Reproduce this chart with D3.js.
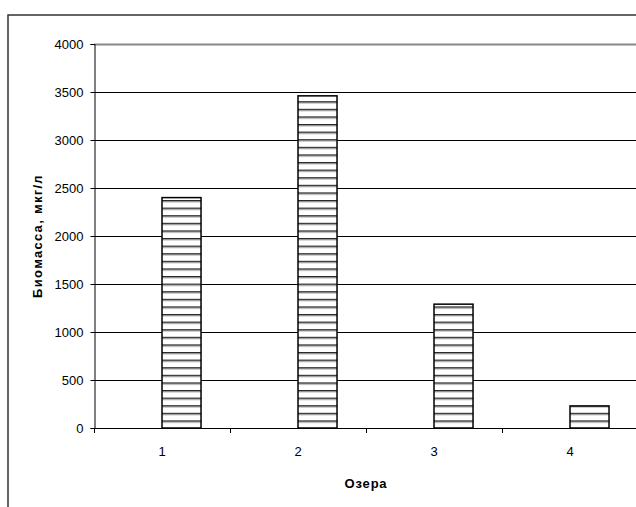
<!DOCTYPE html>
<html><head><meta charset="utf-8">
<script src="https://cdn.jsdelivr.net/npm/d3@7"></script>
<style>
html,body{margin:0;padding:0;background:#fff;}
svg{display:block;font-family:"Liberation Sans",Arial,sans-serif;}
</style></head>
<body>
<svg id="c" width="636" height="507"></svg>
<script>
const categories = ["1","2","3","4"];
const values = [2400, 3460, 1290, 230];
const yTicks = [0,500,1000,1500,2000,2500,3000,3500,4000];
const yTitle = "Биомасса, мкг/л";
const xTitle = "Озера";

const svg = d3.select("#c");
const L = 94, R = 638, T = 44, B = 428;

const defs = svg.append("defs");
const pat = defs.append("pattern").attr("id","hatch")
  .attr("patternUnits","userSpaceOnUse")
  .attr("width", 10).attr("height", 7.6)
  .attr("y", B);
pat.append("rect").attr("width",10).attr("height",7.6).attr("fill","#fff");
pat.append("line").attr("x1",0).attr("x2",10).attr("y1",0.8).attr("y2",0.8)
  .attr("stroke","#1a1a1a").attr("stroke-width",1.5);
pat.append("line").attr("x1",0).attr("x2",10).attr("y1",2).attr("y2",2)
  .attr("stroke","#bbb").attr("stroke-width",1);

// outer border
svg.append("rect").attr("x",8).attr("y",15).attr("width",700).attr("height",600)
  .attr("fill","none").attr("stroke","#333").attr("stroke-width",1.5);

const x = d3.scaleBand().domain(categories).range([L,R]).paddingInner(0).paddingOuter(0);
const y = d3.scaleLinear().domain([0,4000]).range([B,T]);

// gridlines
svg.append("g").selectAll("line").data(yTicks.filter(v=>v>0)).join("line")
  .attr("x1",L).attr("x2",R)
  .attr("y1",d=>Math.round(y(d))+0.5).attr("y2",d=>Math.round(y(d))+0.5)
  .attr("stroke",d=>d===4000?"#888":"#000")
  .attr("stroke-width",d=>d===4000?2:1);

// bars
const bw = x.bandwidth()*0.287;
svg.append("g").selectAll("rect").data(values).join("rect")
  .attr("x",(d,i)=>x(categories[i])+x.bandwidth()/2)
  .attr("y",d=>y(d))
  .attr("width",bw)
  .attr("height",d=>B-y(d))
  .attr("fill","url(#hatch)")
  .attr("stroke","#000").attr("stroke-width",1.5);

// y axis
const ya = svg.append("g").attr("transform",`translate(${L+0.5},0)`)
  .call(d3.axisLeft(y).tickValues(yTicks).tickSize(4).tickPadding(7).tickFormat(d3.format("d")));
ya.select(".domain").attr("stroke","#000");
ya.selectAll(".tick line").attr("stroke","#000");
ya.selectAll("text").attr("font-size","13px").attr("fill","#000")
  .attr("font-family","'Liberation Sans',Arial,sans-serif");

// x axis
const xa = svg.append("g").attr("transform",`translate(0,${B+0.5})`)
  .call(d3.axisBottom(x).tickSize(0).tickPadding(18));
xa.select(".domain").remove();
xa.selectAll("text").attr("font-size","13px").attr("fill","#000")
  .attr("font-family","'Liberation Sans',Arial,sans-serif");
svg.append("line").attr("x1",L).attr("x2",R).attr("y1",B+0.5).attr("y2",B+0.5)
  .attr("stroke","#000");
svg.append("g").selectAll("line").data(categories).join("line")
  .attr("x1",d=>Math.round(x(d))+0.5).attr("x2",d=>Math.round(x(d))+0.5)
  .attr("y1",B).attr("y2",B+5).attr("stroke","#000");

// titles
svg.append("text").attr("transform",`translate(42,${(T+B)/2}) rotate(-90)`)
  .attr("text-anchor","middle").attr("font-size","13px").attr("font-weight","bold")
  .attr("letter-spacing","1.3px")
  .text(yTitle);
svg.append("text").attr("x",(L+R)/2).attr("y",488)
  .attr("text-anchor","middle").attr("font-size","13px").attr("font-weight","bold")
  .attr("letter-spacing","0.8px")
  .text(xTitle);
</script>
</body></html>
